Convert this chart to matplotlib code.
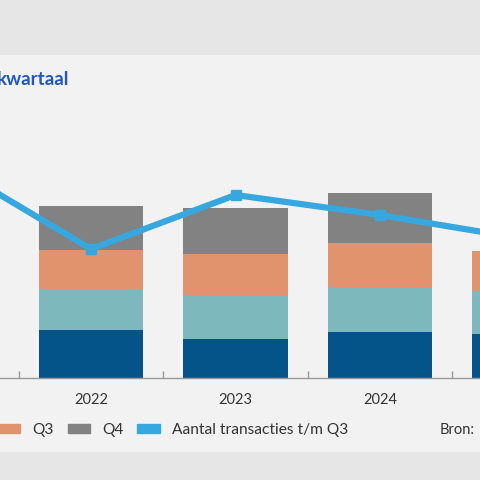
import matplotlib.pyplot as plt
from matplotlib.patches import Patch, Rectangle

plt.rcParams['font.family'] = ['Lato', 'DejaVu Sans']

# data read from the (cropped) picture
years = ['2021', '2022', '2023', '2024', '2025']
q1 = [0, 48, 39, 46.5, 44]
q2 = [0, 41.5, 44, 45, 43]
q3 = [0, 39, 41, 44, 40]
q4 = [0, 43.5, 46, 50, 0]
totaal_tm_q3 = [215, 129, 183, 163, 139]

colors = {'Q1': '#04548a', 'Q2': '#7db8bd', 'Q3': '#e0936c', 'Q4': '#828282'}
line_color = '#37a7df'
text_color = '#333333'

fig = plt.figure(figsize=(4.8, 4.8), dpi=100)
fig.patch.set_facecolor('#e6e6e6')
fig.add_artist(Rectangle((0, 28 / 480), 1, 397 / 480, transform=fig.transFigure,
                         facecolor='#f2f2f2', edgecolor='none', zorder=0))

# axes wider than the figure: the picture is a crop of a larger chart
ax = fig.add_axes([-125.75 / 480, 102 / 480, 722.6 / 480, 288 / 480])
ax.set_facecolor('none')
x = list(range(len(years)))
bottom = [0] * len(years)
for name, vals in [('Q1', q1), ('Q2', q2), ('Q3', q3), ('Q4', q4)]:
    ax.bar(x, vals, width=0.724, bottom=bottom, color=colors[name], zorder=2)
    bottom = [b + v for b, v in zip(bottom, vals)]

ax2 = ax.twinx()
ax2.plot(x, totaal_tm_q3, color=line_color, lw=4.5, marker='s', ms=6.5,
         solid_joinstyle='miter', zorder=3)

for a in (ax, ax2):
    a.set_xlim(-0.5, 4.5)
    a.set_ylim(0, 288)
    for s in a.spines.values():
        s.set_visible(False)
    a.set_yticks([])
ax.spines['bottom'].set_visible(True)
ax.spines['bottom'].set_color('#9a9a9a')
ax.spines['bottom'].set_linewidth(1)

ax.set_xticks(x)
ax.set_xticklabels(years, fontsize=10.5, color=text_color)
ax.tick_params(axis='x', which='major', length=0, pad=11)
ax.set_xticks([i + 0.5 for i in x[:-1]], minor=True)
ax.tick_params(axis='x', which='minor', direction='in', length=5, color='#9a9a9a', width=1)

handles = [Patch(color=colors[k]) for k in ['Q1', 'Q2', 'Q3', 'Q4']] + [Patch(color=line_color)]
labels = ['Q1', 'Q2', 'Q3', 'Q4', 'Aantal transacties t/m Q3']
fig.legend(handles, labels, loc='center right', bbox_to_anchor=(356 / 480, 50 / 480),
           ncol=5, frameon=False, fontsize=11.2, borderpad=0, handlelength=1.44,
           handleheight=0.52, handletextpad=0.78, columnspacing=0.9, labelcolor=text_color)

fig.text(440 / 480, 50 / 480, 'Bron:', fontsize=10.5, color=text_color, va='center')
fig.text(-3 / 480, 395 / 480, 'kwartaal', fontsize=13.5, fontweight='bold',
         color='#1f57c3', va='baseline')

fig.savefig('out.png', dpi=100, facecolor=fig.get_facecolor())
